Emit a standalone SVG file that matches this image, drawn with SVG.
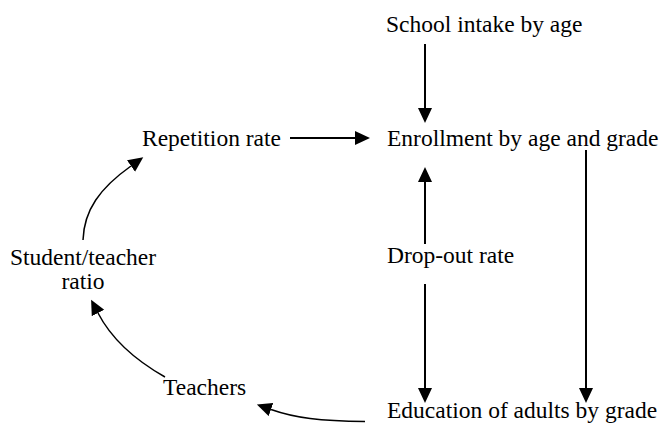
<svg xmlns="http://www.w3.org/2000/svg" width="667" height="432" viewBox="0 0 667 432">
<style>
text{font-family:'Liberation Serif','Times New Roman',serif;font-size:23.5px;fill:#000}
.s{stroke:#000;stroke-width:2;fill:none}
.c{stroke:#000;stroke-width:1.5;fill:none}
</style>
<defs>
<marker id="ah" markerUnits="userSpaceOnUse" markerWidth="16" markerHeight="15" refX="0" refY="7" orient="auto" viewBox="0 0 16 15">
<path d="M0,0 L15,7 L0,14 z" fill="#000"/>
</marker>
</defs>
<rect width="667" height="432" fill="#fff"/>
<g font-family="Liberation Serif, serif">
<g id="school"><text x="386" y="32">School intake by age</text></g>
<g id="repetition"><text x="142" y="146">Repetition rate</text></g>
<g id="enrollment"><text x="387" y="146">Enrollment by age and grade</text></g>
<g id="ratio"><text x="83" y="265" text-anchor="middle">Student/teacher</text><text x="83" y="289" text-anchor="middle">ratio</text></g>
<g id="dropout"><text x="387" y="263">Drop-out rate</text></g>
<g id="teachers"><text x="163" y="395">Teachers</text></g>
<g id="education"><text x="387" y="418">Education of adults by grade</text></g>
</g>
<g id="connectors">
<line class="s" x1="425" y1="44" x2="425" y2="108" marker-end="url(#ah)"/>
<line class="s" x1="290" y1="138" x2="355" y2="138" marker-end="url(#ah)"/>
<line class="s" x1="425" y1="244" x2="425" y2="182" marker-end="url(#ah)"/>
<line class="s" x1="425" y1="284" x2="425" y2="388" marker-end="url(#ah)"/>
<line class="s" x1="586" y1="150" x2="586" y2="388" marker-end="url(#ah)"/>
<path class="c" d="M365,421.5 C320,421 295,418 271,409.5" marker-end="url(#ah)"/>
<path class="c" d="M165,377 C135,360 112,340 98,313" marker-end="url(#ah)"/>
<path class="c" d="M83,240 C84,210 100,188 131,166" marker-end="url(#ah)"/>
</g>
</svg>
